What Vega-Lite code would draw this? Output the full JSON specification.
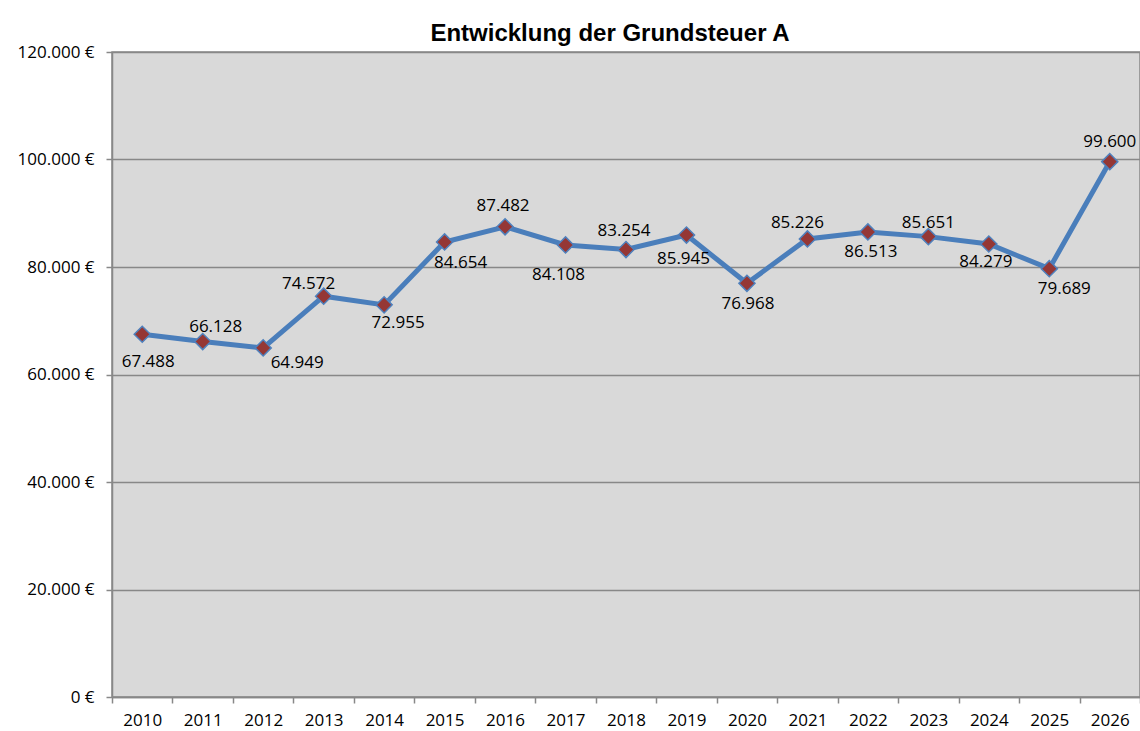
{
  "$schema": "https://vega.github.io/schema/vega-lite/v6.json",
  "width": 1028,
  "height": 645,
  "autosize": {"type": "none"},
  "padding": {"left": 112, "top": 52, "right": 0, "bottom": 34},
  "background": "white",
  "title": {"text": "Entwicklung der Grundsteuer A", "font": "Liberation Sans", "fontSize": 24, "fontWeight": "bold", "color": "black", "anchor": "middle", "dx": -16, "dy": 5, "offset": 2},
  "config": {
    "locale": {"number": {"decimal": ",", "thousands": ".", "grouping": [3], "currency": ["", " €"]}},
    "view": {"fill": "#d9d9d9", "stroke": "#888888", "strokeWidth": 1.5},
    "text": {"font": "Open Sans", "fontSize": 17, "color": "black", "baseline": "middle", "align": "center"}
  },
  "data": {"values": [
    {"year": "2010", "value": 67488},
    {"year": "2011", "value": 66128},
    {"year": "2012", "value": 64949},
    {"year": "2013", "value": 74572},
    {"year": "2014", "value": 72955},
    {"year": "2015", "value": 84654},
    {"year": "2016", "value": 87482},
    {"year": "2017", "value": 84108},
    {"year": "2018", "value": 83254},
    {"year": "2019", "value": 85945},
    {"year": "2020", "value": 76968},
    {"year": "2021", "value": 85226},
    {"year": "2022", "value": 86513},
    {"year": "2023", "value": 85651},
    {"year": "2024", "value": 84279},
    {"year": "2025", "value": 79689},
    {"year": "2026", "value": 99600}
  ]},
  "encoding": {
    "x": {"field": "year", "type": "ordinal", "scale": {"type": "band", "paddingInner": 0, "paddingOuter": 0},
      "axis": {"title": null, "labelAngle": 0, "tickBand": "extent", "tickSize": 6, "labelPadding": 9, "grid": false, "labelFont": "Open Sans", "labelFontSize": 17, "labelColor": "black", "domainColor": "#888888", "tickColor": "#888888", "domainWidth": 1.5, "tickWidth": 1.5}},
    "y": {"field": "value", "type": "quantitative", "scale": {"domain": [0, 120000], "nice": false},
      "axis": {"title": null, "values": [0, 20000, 40000, 60000, 80000, 100000, 120000], "format": "$,d", "grid": true, "gridColor": "#888888", "gridWidth": 1.5, "tickSize": 6, "labelPadding": 12, "labelFont": "Open Sans", "labelFontSize": 17, "labelColor": "black", "domainColor": "#888888", "tickColor": "#888888", "domainWidth": 1.5, "tickWidth": 1.5}},
    "text": {"field": "value", "type": "quantitative", "format": ",d"}
  },
  "layer": [
    {"mark": {"type": "line", "color": "#4a7ebb", "strokeWidth": 5}, "encoding": {"text": null}},
    {"mark": {"type": "point", "shape": "diamond", "size": 260, "filled": true, "fill": "#953735", "stroke": "#4f81bd", "strokeWidth": 1.5, "opacity": 1}, "encoding": {"text": null}},
    {"transform": [{"filter": "datum.year == '2010'"}], "mark": {"type": "text", "dx": 6, "dy": 28}},
    {"transform": [{"filter": "datum.year == '2011'"}], "mark": {"type": "text", "dx": 13, "dy": -15}},
    {"transform": [{"filter": "datum.year == '2012'"}], "mark": {"type": "text", "dx": 34, "dy": 15}},
    {"transform": [{"filter": "datum.year == '2013'"}], "mark": {"type": "text", "dx": -15, "dy": -12}},
    {"transform": [{"filter": "datum.year == '2014'"}], "mark": {"type": "text", "dx": 14, "dy": 18}},
    {"transform": [{"filter": "datum.year == '2015'"}], "mark": {"type": "text", "dx": 16, "dy": 21}},
    {"transform": [{"filter": "datum.year == '2016'"}], "mark": {"type": "text", "dx": -2, "dy": -21}},
    {"transform": [{"filter": "datum.year == '2017'"}], "mark": {"type": "text", "dx": -7, "dy": 30}},
    {"transform": [{"filter": "datum.year == '2018'"}], "mark": {"type": "text", "dx": -2, "dy": -19}},
    {"transform": [{"filter": "datum.year == '2019'"}], "mark": {"type": "text", "dx": -3, "dy": 24}},
    {"transform": [{"filter": "datum.year == '2020'"}], "mark": {"type": "text", "dx": 1, "dy": 21}},
    {"transform": [{"filter": "datum.year == '2021'"}], "mark": {"type": "text", "dx": -10, "dy": -16}},
    {"transform": [{"filter": "datum.year == '2022'"}], "mark": {"type": "text", "dx": 3, "dy": 20}},
    {"transform": [{"filter": "datum.year == '2023'"}], "mark": {"type": "text", "dx": 0, "dy": -14}},
    {"transform": [{"filter": "datum.year == '2024'"}], "mark": {"type": "text", "dx": -3, "dy": 18}},
    {"transform": [{"filter": "datum.year == '2025'"}], "mark": {"type": "text", "dx": 15, "dy": 20}},
    {"transform": [{"filter": "datum.year == '2026'"}], "mark": {"type": "text", "dx": 0, "dy": -20}}
  ]
}
